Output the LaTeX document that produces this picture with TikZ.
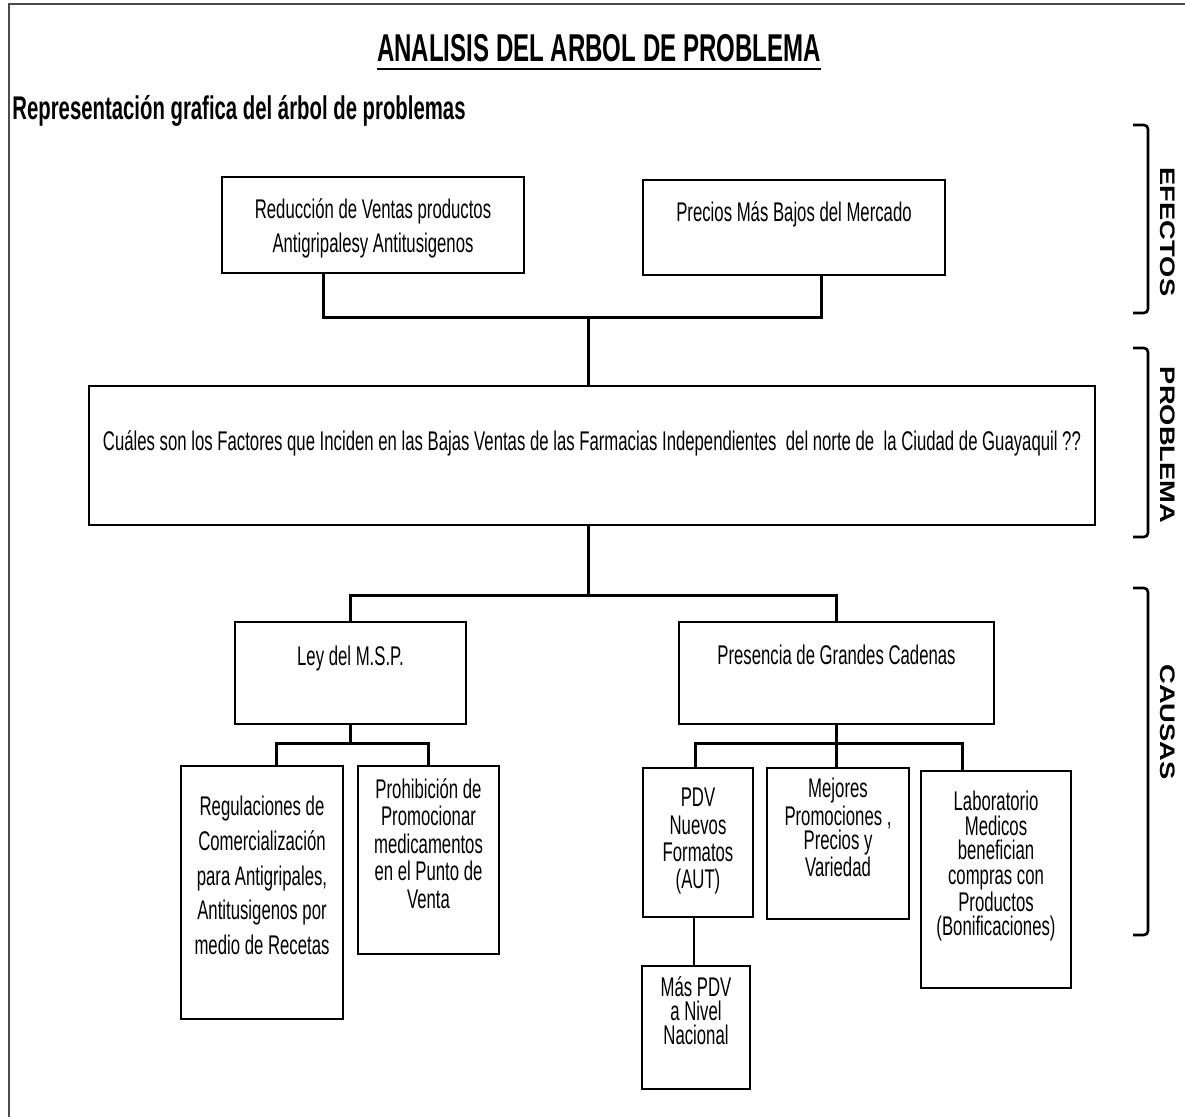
\documentclass[tikz,border=0pt]{standalone}
\usepackage{fontspec}
\setmainfont{Liberation Sans}
\newfontfamily\narrowfont[FakeStretch=0.62]{Liberation Sans}
\newfontfamily\widefont[FakeStretch=1.3]{Liberation Sans}
\usetikzlibrary{positioning}

\tikzset{
  caja/.style={draw, line width=1pt, inner sep=0pt},
  texto/.style={align=center, inner sep=0pt, font=\narrowfont\fontsize{13.5pt}{17pt}\selectfont},
  conector/.style={line width=1.5pt},
  llave/.style={line width=1.3pt, rounded corners=2pt},
  etiqueta/.style={rotate=-90, inner sep=0pt, font=\widefont\bfseries\fontsize{10.5pt}{12pt}\selectfont}
}

\begin{document}
\begin{tikzpicture}[x=0.5pt, y=-0.5pt]
	\useasboundingbox (0,0) rectangle (1185,1117);
	\clip (0,0) rectangle (1185,1117);
	\draw[line width=1pt, black!70] (9,1130) |- (1200,4);

	% titulos
	\node[inner sep=0pt, anchor=base, font=\narrowfont\bfseries\fontsize{19.4pt}{24pt}\selectfont] (titulo) at (599,62) {ANALISIS DEL ARBOL DE PROBLEMA};
	\draw[line width=1.4pt] ([yshift=-3.5pt]titulo.base west) -- ([yshift=-3.5pt]titulo.base east);
	\node[inner sep=0pt, anchor=base west, font=\narrowfont\bfseries\fontsize{16.4pt}{20pt}\selectfont] (subtitulo) at (12,120) {Representación grafica del árbol de problemas};

	% efectos
	\node[caja, minimum width=151pt, minimum height=48pt] (efecto1) at (373,225) {};
	\node[texto, below=11pt of efecto1.north] {Reducción de Ventas productos\\Antigripalesy Antitusigenos};
	\node[caja, minimum width=151pt, minimum height=47.5pt] (efecto2) at (794,227.5) {};
	\node[texto, below=11pt of efecto2.north] {Precios Más Bajos del Mercado};

	% problema
	\node[caja, minimum width=503pt, minimum height=69.5pt] (problema) at (592,455.5) {};
	\node[texto, below=22.5pt of problema.north] {Cuáles son los Factores que Inciden en las Bajas Ventas de las Farmacias Independientes\ \ del norte de\ \ la Ciudad de Guayaquil ??};

	% causas
	\node[caja, minimum width=115.5pt, minimum height=51pt] (ley) at (350.5,673) {};
	\node[texto, below=12.5pt of ley.north] {Ley del M.S.P.};
	\node[caja, minimum width=157.5pt, minimum height=51pt] (presencia) at (836.5,673) {};
	\node[texto, below=12pt of presencia.north] {Presencia de Grandes Cadenas};

	\node[caja, minimum width=81pt, minimum height=126.5pt] (regulaciones) at (262,892.5) {};
	\node[texto, below=15.5pt of regulaciones.north, font=\narrowfont\fontsize{13.5pt}{17.3pt}\selectfont] {Regulaciones de\\Comercialización\\para Antigripales,\\Antitusigenos por\\medio de Recetas};
	\node[caja, minimum width=70.5pt, minimum height=94pt] (prohibicion) at (428.5,860) {};
	\node[texto, below=6.5pt of prohibicion.north, font=\narrowfont\fontsize{13.5pt}{13.75pt}\selectfont] {Prohibición de\\Promocionar\\medicamentos\\en el Punto de\\Venta};

	\node[caja, minimum width=55pt, minimum height=74.5pt] (pdv) at (698,842.5) {};
	\node[texto, below=10.5pt of pdv.north, font=\narrowfont\fontsize{13.5pt}{13.6pt}\selectfont] {PDV\\Nuevos\\Formatos\\(AUT)};
	\node[caja, minimum width=71pt, minimum height=75.5pt] (mejores) at (838,843.5) {};
	\node[texto, below=5.5pt of mejores.north, font=\narrowfont\fontsize{13.5pt}{12pt}\selectfont] {Mejores\\Promociones ,\\Precios y\\Variedad};
	\node[caja, minimum width=75pt, minimum height=108.5pt] (laboratorio) at (996,879.5) {};
	\node[texto, below=10.5pt of laboratorio.north, font=\narrowfont\fontsize{13.5pt}{12.2pt}\selectfont] {Laboratorio\\Medicos\\benefician\\compras con\\Productos\\(Bonificaciones)};
	\node[caja, minimum width=54pt, minimum height=61.5pt] (maspdv) at (696,1027.5) {};
	\node[texto, below=5.5pt of maspdv.north, font=\narrowfont\fontsize{13.5pt}{12pt}\selectfont] {Más PDV\\a Nivel\\Nacional};

	% conectores
	\coordinate (busE) at (588,318);
	\coordinate (busC) at (588,596);
	\coordinate (busL) at (350,744);
	\coordinate (busP) at (836,744);
	\draw[conector] ([xshift=-25pt]efecto1.south) |- (busE) -| ([xshift=13.5pt]efecto2.south);
	\draw[conector] (busE) -- (problema.north -| busE);
	\draw[conector] (problema.south -| busC) -- (busC);
	\draw[conector] (ley.north) |- (busC) -| (presencia.north);
	\draw[conector] (ley.south -| busL) -- (busL);
	\draw[conector] ([xshift=7pt]regulaciones.north) |- (busL) -| (prohibicion.north);
	\draw[conector] (presencia.south -| busP) -- (busP);
	\draw[conector] ([xshift=-1.5pt]pdv.north) |- (busP) -| ([xshift=-17pt]laboratorio.north);
	\draw[conector] (busP) -- (mejores.north -| busP);
	\draw[line width=1pt] (maspdv.north -| 694,0) -- (pdv.south -| 694,0);

	% llaves
	\draw[llave] (1133,125) -- (1148,125) -- (1148,313) -- (1133,313);
	\draw[llave] (1133,348) -- (1148,348) -- (1148,537) -- (1133,537);
	\draw[llave] (1133,588) -- (1148,588) -- (1148,935) -- (1133,935);
	\node[etiqueta] (efectos) at (1168,232) {EFECTOS};
	\node[etiqueta] (problemalbl) at (1168,445) {PROBLEMA};
	\node[etiqueta] (causas) at (1168,722) {CAUSAS};
\end{tikzpicture}
\end{document}
